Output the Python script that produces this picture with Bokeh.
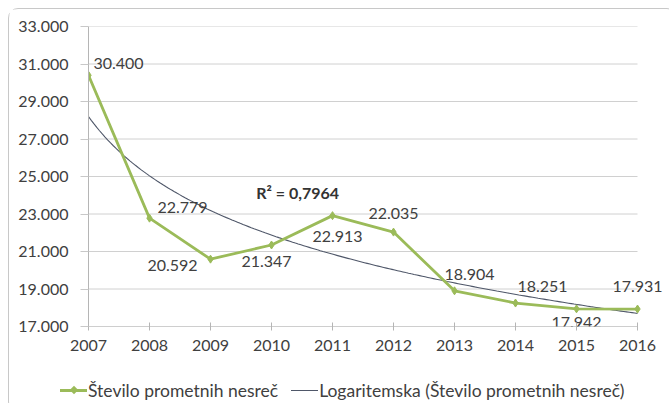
import numpy as np
from bokeh.plotting import figure
from bokeh.layouts import column
from bokeh.models import ColumnDataSource, Range1d, FixedTicker, Label, Div
from bokeh.core.properties import value
from bokeh.embed import file_html
from bokeh.resources import INLINE

# ---- data ----
years = [2007, 2008, 2009, 2010, 2011, 2012, 2013, 2014, 2015, 2016]
accidents = [30400, 22779, 20592, 21347, 22913, 22035, 18904, 18251, 17942, 17931]
y_ticks = [17000, 19000, 21000, 23000, 25000, 27000, 29000, 31000, 33000]
y_tick_labels = ["17.000", "19.000", "21.000", "23.000", "25.000", "27.000", "29.000", "31.000", "33.000"]
series_name = "Število prometnih nesreč"
trend_name = "Logaritemska (Število prometnih nesreč)"
r2_text = "R² = 0,7964"

# ---- label placement (screen px, y down) ----
label_dx = [30, 33, -38, -5, 5, 0, 15, 27, 0, 0]
label_dy = [-12, -11, 6, 17, 21, -19, -16, -17, 14, -23]

FONT = "Lato"
TXT = "#404040"
GREEN = "#9bbb59"
TREND = "#4f5769"
GRID = "#d0d0d0"
AXIS = "#b5b5b5"

labels = [f"{v:,}".replace(",", ".") for v in accidents]
src = ColumnDataSource(dict(x=years, y=accidents, t=labels, dx=label_dx, dy=label_dy))

# logarithmic trendline (least squares on ln(index)), as in the original chart
idx = np.arange(1, len(years) + 1)
a, b = np.polyfit(np.log(idx), np.array(accidents, dtype=float), 1)
xs = np.linspace(1, len(years), 200)
trend_src = ColumnDataSource(dict(x=years[0] - 1 + xs, y=a * np.log(xs) + b))

# frame extends a little past the last year so the last label is not clipped
p = figure(width=657, height=357, output_backend="svg", toolbar_location=None,
           x_range=Range1d(years[0], years[-1] + 0.426), y_range=Range1d(y_ticks[0], y_ticks[-1]),
           min_border_left=79, min_border_right=3, min_border_top=17, min_border_bottom=40)
p.outline_line_color = None
p.background_fill_color = "white"
p.border_fill_color = "white"

# axes
p.xaxis.ticker = FixedTicker(ticks=years)
p.xaxis.major_label_overrides = {y: str(y) for y in years}
p.xaxis.minor_tick_line_color = None
p.xaxis.major_tick_in = 4
p.xaxis.major_tick_out = 4
p.xaxis.axis_line_color = None
p.xaxis.major_tick_line_color = AXIS
p.xaxis.major_label_standoff = 9

p.yaxis.ticker = FixedTicker(ticks=y_ticks)
p.yaxis.major_label_overrides = dict(zip(y_ticks, y_tick_labels))
p.yaxis.minor_tick_line_color = None
p.yaxis.major_tick_in = 0
p.yaxis.major_tick_out = 8
p.yaxis.axis_line_color = AXIS
p.yaxis.major_tick_line_color = "#c8c8c8"
p.yaxis.major_label_standoff = 12

for ax in (p.xaxis, p.yaxis):
    ax.major_label_text_font = FONT
    ax.major_label_text_font_size = "16px"
    ax.major_label_text_color = TXT

p.xgrid.grid_line_color = None
p.ygrid.grid_line_color = None
# horizontal gridlines spanning the year range only
p.segment(x0=years[0], x1=years[-1], y0=y_ticks, y1=y_ticks, line_color=GRID, line_width=1)
p.segment(x0=years[0], x1=years[-1], y0=y_ticks[0], y1=y_ticks[0], line_color=AXIS, line_width=1)

# glyphs
tr = p.line("x", "y", source=trend_src, line_color=TREND, line_width=1.1)
ln = p.line("x", "y", source=src, line_color=GREEN, line_width=2.8)
mk = p.scatter("x", "y", source=src, marker="diamond", size=8, fill_color=GREEN, line_color=GREEN)

p.text("x", "y", text="t", source=src, x_offset="dx", y_offset="dy",
       text_align="center", text_baseline="middle",
       text_font=value(FONT), text_font_size="16px", text_color=TXT)

p.add_layout(Label(x=2010.43, y=24150, text=r2_text, text_align="center", text_baseline="middle",
                   text_font=FONT, text_font_size="16px", text_font_style="bold", text_color="#333333"))

# legend strip below the chart
legend_html = f"""
<div style="display:flex;align-items:center;box-sizing:border-box;height:35px;padding-top:3px;
            padding-left:46px;font-family:{FONT};font-size:17.5px;color:{TXT};white-space:nowrap;">
  <span style="position:relative;display:inline-block;width:27px;height:3px;background:{GREEN};margin-right:1px;">
    <span style="position:absolute;left:10.5px;top:-1.5px;width:6px;height:6px;background:{GREEN};transform:rotate(45deg);"></span>
  </span>
  <span>{series_name}</span>
  <span style="display:inline-block;width:27px;height:1px;background:{TREND};margin-left:13px;margin-right:1px;"></span>
  <span>{trend_name}</span>
</div>
"""
lg = Div(text=legend_html, width=657, height=35)

layout = column(p, lg, spacing=0,
                styles={"margin-left": "8px", "margin-top": "8px",
                        "border": "1px solid #c8c8c8", "border-radius": "10px"})

open("out.html", "w").write(file_html(layout, INLINE))
